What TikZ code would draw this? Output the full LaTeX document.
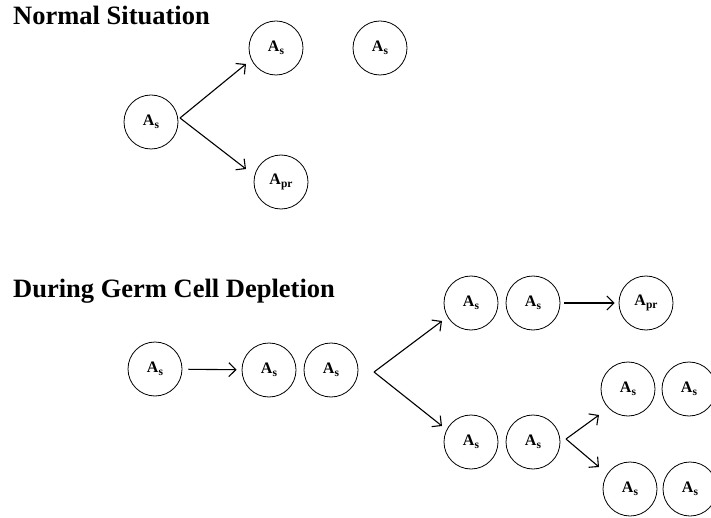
\documentclass[tikz,border=0pt]{standalone}
\usepackage{fontspec}
\setmainfont{Liberation Serif}
\usetikzlibrary{arrows.meta}
\newcommand{\cellA}[1]{\fontsize{16}{16}\selectfont\bfseries A\raisebox{-2.5pt}{\fontsize{11.5}{11.5}\selectfont\bfseries #1}}
\tikzset{
  cell/.style={circle, draw, line width=0.8pt, minimum size=54pt, inner sep=0pt},
  arr/.style={line width=1.1pt, -{Straight Barb[length=7pt,width=14pt,line width=1.1pt]}},
  title/.style={anchor=base west, inner sep=0pt, font=\fontsize{26.5}{30}\selectfont\bfseries}
}
\begin{document}
\begin{tikzpicture}[x=1pt,y=-1pt]
\useasboundingbox (0,0) rectangle (711,518);
% Normal situation
\node[title] (t1) at (13,25) {Normal Situation};
\node[cell] (a1) at (151,122) {\cellA{s}};
\node[cell] (a2) at (276,48) {\cellA{s}};
\node[cell] (a3) at (380,48) {\cellA{s}};
\node[cell] (a4) at (281,182) {\cellA{pr}};
\coordinate (p1) at (180,118);
\coordinate (p1u) at (246,64);
\coordinate (p1d) at (246,169);
\draw[arr] (p1) -- (p1u);
\draw[arr] (p1) -- (p1d);
% During germ cell depletion
\node[title] (t2) at (13,298) {During Germ Cell Depletion};
\node[cell] (b1) at (155,369) {\cellA{s}};
\node[cell] (b2) at (269,370) {\cellA{s}};
\node[cell] (b3) at (331,370) {\cellA{s}};
\draw[arr, shorten <=6pt, shorten >=5pt] (b1) -- (b2);
\coordinate (p2) at (374,372);
\coordinate (p2u) at (442,321);
\coordinate (p2d) at (442,426);
\draw[arr] (p2) -- (p2u);
\draw[arr] (p2) -- (p2d);
\node[cell] (c1) at (471,303) {\cellA{s}};
\node[cell] (c2) at (533,303) {\cellA{s}};
\node[cell] (c3) at (646,303) {\cellA{pr}};
\draw[arr, shorten <=4pt, shorten >=4pt] (c2) -- (c3);
\node[cell] (d1) at (471,442) {\cellA{s}};
\node[cell] (d2) at (533,442) {\cellA{s}};
\coordinate (p3) at (566,439);
\coordinate (p3u) at (599,415);
\coordinate (p3d) at (599,467);
\draw[arr] (p3) -- (p3u);
\draw[arr] (p3) -- (p3d);
\node[cell] (e1) at (628,389) {\cellA{s}};
\node[cell] (e2) at (689,389) {\cellA{s}};
\node[cell] (f1) at (630,489) {\cellA{s}};
\node[cell] (f2) at (690,489) {\cellA{s}};
\end{tikzpicture}
\end{document}
